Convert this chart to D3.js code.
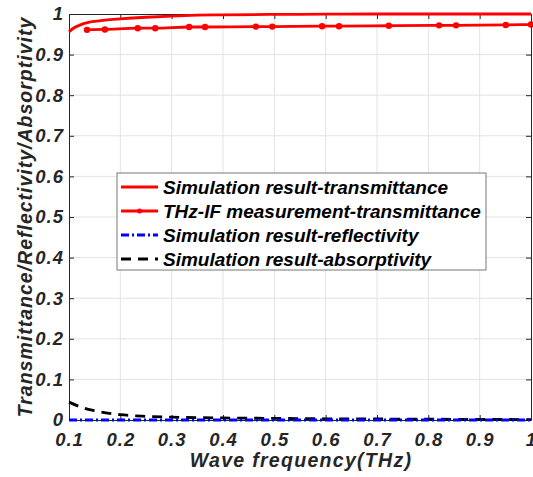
<!DOCTYPE html>
<html>
<head>
<meta charset="utf-8">
<script src="https://cdn.jsdelivr.net/npm/d3@7"></script>
<style>
  html, body { margin: 0; padding: 0; background: #fff; }
  text { font-family: "Liberation Sans", Arial, sans-serif; font-weight: bold; font-style: italic; }
</style>
</head>
<body>
<div id="chart"></div>
<script>
// Simulation transmittance
const simFreq = [0.1, 0.11, 0.12, 0.13, 0.14, 0.15, 0.17, 0.2, 0.25, 0.3, 0.35, 0.4, 0.5, 0.6, 0.7, 0.8, 0.9, 1.0];
const simTrans = [0.956, 0.966, 0.972, 0.977, 0.980, 0.982, 0.985, 0.988, 0.992, 0.995, 0.997, 0.998, 0.999, 0.9995, 1, 1, 1, 1];

// THz-IF measurement transmittance
const measFreq = [0.135, 0.170, 0.234, 0.268, 0.334, 0.365, 0.464, 0.496, 0.593, 0.626, 0.723, 0.821, 0.854, 0.951, 1.0];
const measTrans = [0.961, 0.962, 0.965, 0.965, 0.968, 0.968, 0.969, 0.969, 0.970, 0.970, 0.971, 0.972, 0.972, 0.973, 0.974];

// Reflectivity (flat at zero)
const reflFreq = [0.1, 1.0];
const reflVals = [0, 0];

// Absorptivity
const absFreq = [0.1, 0.125, 0.15, 0.175, 0.2, 0.25, 0.3, 0.4, 0.5, 0.6, 0.7, 0.8, 0.9, 1.0];
const absVals = [0.044, 0.031, 0.023, 0.017, 0.013, 0.009, 0.007, 0.005, 0.004, 0.003, 0.0025, 0.002, 0.0015, 0.001];

const xTicks = [0.1, 0.2, 0.3, 0.4, 0.5, 0.6, 0.7, 0.8, 0.9, 1];
const yTicks = [0, 0.1, 0.2, 0.3, 0.4, 0.5, 0.6, 0.7, 0.8, 0.9, 1];

const legendLabels = [
  'Simulation result-transmittance',
  'THz-IF measurement-transmittance',
  'Simulation result-reflectivity',
  'Simulation result-absorptivity'
];

const W = 533, H = 477;
const m = { left: 69, right: 2, top: 14, bottom: 57 };
const iw = W - m.left - m.right, ih = H - m.top - m.bottom;
const axisColor = '#262626';

const svg = d3.select('#chart').append('svg').attr('width', W).attr('height', H);
const g = svg.append('g').attr('transform', `translate(${m.left},${m.top})`);

const x = d3.scaleLinear().domain([0.1, 1]).range([0, iw]);
const y = d3.scaleLinear().domain([0, 1]).range([ih, 0]);

// grid
g.append('g').selectAll('line').data(xTicks.slice(1, -1)).join('line')
  .attr('x1', d => x(d)).attr('x2', d => x(d)).attr('y1', 0).attr('y2', ih)
  .attr('stroke', '#e3e3e3').attr('stroke-width', 1);
g.append('g').selectAll('line').data(yTicks.slice(1, -1)).join('line')
  .attr('y1', d => y(d)).attr('y2', d => y(d)).attr('x1', 0).attr('x2', iw)
  .attr('stroke', '#e3e3e3').attr('stroke-width', 1);

// axes (MATLAB box style, ticks inward)
const fmt = d => d === 0 ? '0' : d === 1 ? '1' : d3.format('.1f')(d);
const styleAxis = sel => {
  sel.select('.domain').attr('stroke', axisColor).attr('stroke-width', 1);
  sel.selectAll('.tick line').attr('stroke', axisColor);
  sel.selectAll('.tick text').attr('fill', axisColor).attr('font-size', 18.5)
    .attr('letter-spacing', 1)
    .style('font-family', '"Liberation Sans", Arial, sans-serif');
};
g.append('g').attr('transform', `translate(0,${ih})`)
  .call(d3.axisBottom(x).tickValues(xTicks).tickFormat(fmt).tickSizeInner(-5).tickSizeOuter(0).tickPadding(13))
  .call(styleAxis);
g.append('g')
  .call(d3.axisLeft(y).tickValues(yTicks).tickFormat(fmt).tickSizeInner(-5).tickSizeOuter(0).tickPadding(5))
  .call(styleAxis);
g.append('g')
  .call(d3.axisTop(x).tickValues(xTicks).tickFormat('').tickSizeInner(-5).tickSizeOuter(0))
  .call(styleAxis);
g.append('g').attr('transform', `translate(${iw},0)`)
  .call(d3.axisRight(y).tickValues(yTicks).tickFormat('').tickSizeInner(-5).tickSizeOuter(0))
  .call(styleAxis);

const line = d3.line().x(d => x(d[0])).y(d => y(d[1])).curve(d3.curveMonotoneX);

// series
svg.append('clipPath').attr('id', 'clip').append('rect')
  .attr('x', -3).attr('y', -4).attr('width', iw + 6).attr('height', ih + 8);
const plot = g.append('g').attr('clip-path', 'url(#clip)');

plot.append('path').datum(d3.zip(absFreq, absVals)).attr('d', line)
  .attr('fill', 'none').attr('stroke', '#000').attr('stroke-width', 2.8).attr('stroke-dasharray', '10,7');
plot.append('path').datum(d3.zip(reflFreq, reflVals)).attr('d', line)
  .attr('fill', 'none').attr('stroke', '#0000ff').attr('stroke-width', 2.8).attr('stroke-dasharray', '8,3,2,3');
plot.append('path').datum(d3.zip(simFreq, simTrans)).attr('d', line)
  .attr('fill', 'none').attr('stroke', '#ff0000').attr('stroke-width', 2.8);
plot.append('path').datum(d3.zip(measFreq, measTrans)).attr('d', line)
  .attr('fill', 'none').attr('stroke', '#ff0000').attr('stroke-width', 2.8);
plot.append('g').selectAll('circle').data(d3.zip(measFreq, measTrans)).join('circle')
  .attr('cx', d => x(d[0])).attr('cy', d => y(d[1])).attr('r', 3.2).attr('fill', '#ff0000');

// axis titles
svg.append('text').attr('x', 301).attr('y', 467).attr('text-anchor', 'middle')
  .attr('font-size', 19.5).attr('letter-spacing', 1.3).attr('fill', axisColor).text('Wave frequency(THz)');
svg.append('text').attr('transform', 'translate(32,217) rotate(-90)').attr('text-anchor', 'middle')
  .attr('font-size', 19.5).attr('letter-spacing', 1).attr('fill', axisColor).text('Transmittance/Reflectivity/Absorptivity');

// legend
const lg = svg.append('g').attr('transform', 'translate(117,173)');
lg.append('rect').attr('width', 369).attr('height', 97).attr('fill', '#fff')
  .attr('stroke', '#777').attr('stroke-width', 1);
const rowY = i => 14 + i * 24;
const samples = [
  { stroke: '#ff0000', dash: null, marker: false },
  { stroke: '#ff0000', dash: null, marker: true },
  { stroke: '#0000ff', dash: '8,3,2,3', marker: false },
  { stroke: '#000', dash: '10,7', marker: false }
];
legendLabels.forEach((lab, i) => {
  const s = samples[i];
  lg.append('line').attr('x1', 4).attr('x2', 41).attr('y1', rowY(i)).attr('y2', rowY(i))
    .attr('stroke', s.stroke).attr('stroke-width', 2.8).attr('stroke-dasharray', s.dash);
  if (s.marker) lg.append('circle').attr('cx', 22.5).attr('cy', rowY(i)).attr('r', 2.5).attr('fill', s.stroke);
  lg.append('text').attr('x', 46).attr('y', rowY(i) + 7).attr('font-size', 19).attr('fill', '#000').text(lab);
});
</script>
</body>
</html>
